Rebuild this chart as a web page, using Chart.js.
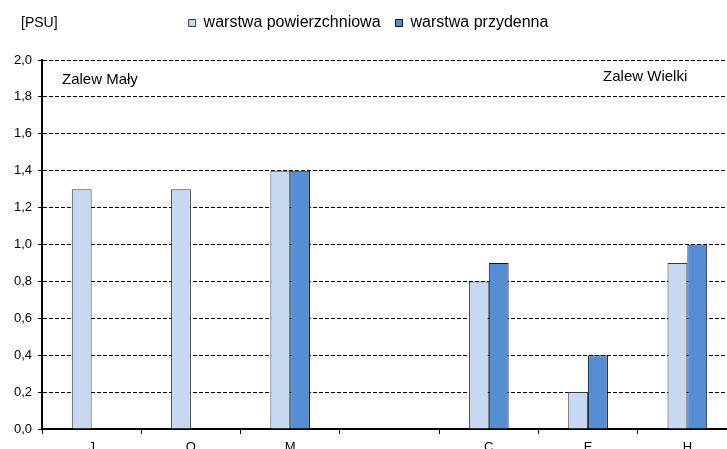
<!DOCTYPE html>
<html>
<head>
<meta charset="utf-8">
<script src="https://cdn.jsdelivr.net/npm/chart.js@4"></script>
<style>
    html, body { margin: 0; padding: 0; background: #fff; overflow: hidden; }
    #wrap { width: 737px; height: 460px; }
</style>
</head>
<body>
<div id="wrap"><canvas id="myChart"></canvas></div>
<script>
// stations (4th slot is an empty gap between the two lagoons)
var stations = ['J', 'O', 'M', '', 'C', 'E', 'H'];
var surface = [1.3, 1.3, 1.4, null, 0.8, 0.2, 0.9];
var bottom = [null, null, 1.4, null, 0.9, 0.4, 1.0];
var seriesNames = ['warstwa powierzchniowa', 'warstwa przydenna'];
var unitLabel = '[PSU]';
var regionLabels = ['Zalew Mały', 'Zalew Wielki'];

var fontFam = '"Liberation Sans", Arial, sans-serif';

// legend needs extra room below it, the chart area starts lower
var legendGap = {
    id: 'legendGap',
    beforeUpdate: function (chart) {
        var lg = chart.legend;
        if (lg && !lg._gapPatched) {
            var fit = lg.fit;
            lg.fit = function () {
                fit.call(this);
                this.height += 19;
            };
            lg._gapPatched = true;
        }
    }
};

// unit label + lagoon names
var extraText = {
    id: 'extraText',
    afterDraw: function (chart) {
        var ctx = chart.ctx;
        var area = chart.chartArea;
        var x = chart.scales.x;
        ctx.save();
        ctx.fillStyle = '#000';
        ctx.textBaseline = 'middle';
        ctx.textAlign = 'left';
        ctx.font = '14px ' + fontFam;
        ctx.fillText(unitLabel, 21, 23);
        ctx.font = '15px ' + fontFam;
        ctx.fillText(regionLabels[0], area.left + 20, 80);
        ctx.fillText(regionLabels[1], x.getPixelForValue(5) + 15, 77);
        ctx.restore();
    }
};

var ctx = document.getElementById('myChart').getContext('2d');
var myChart = new Chart(ctx, {
    type: 'bar',
    data: {
        labels: stations,
        datasets: [{
            label: seriesNames[0],
            data: surface,
            backgroundColor: '#c6d9f1',
            borderColor: '#3a3a3a',
            borderWidth: 1
        }, {
            label: seriesNames[1],
            data: bottom,
            backgroundColor: '#558ed5',
            borderColor: '#111',
            borderWidth: 1
        }]
    },
    options: {
        responsive: true,
        maintainAspectRatio: false,
        animation: false,
        categoryPercentage: 0.4,
        barPercentage: 1.0,
        layout: { padding: { top: 0, left: 0, right: 0, bottom: 0 } },
        plugins: {
            legend: {
                display: true,
                position: 'top',
                labels: {
                    boxWidth: 7,
                    boxHeight: 7,
                    padding: 15,
                    color: '#000',
                    font: { family: fontFam, size: 16 }
                }
            },
            tooltip: { enabled: false }
        },
        scales: {
            x: {
                offset: true,
                afterFit: function (scale) { scale.height = 31; },
                grid: {
                    offset: true,
                    drawOnChartArea: false,
                    drawTicks: true,
                    tickLength: 5,
                    color: '#000'
                },
                border: { color: '#000', width: 2 },
                ticks: {
                    color: '#000',
                    padding: 6,
                    font: { family: fontFam, size: 13 }
                }
            },
            y: {
                min: 0,
                max: 2,
                afterFit: function (scale) { scale.width = 42; },
                ticks: {
                    stepSize: 0.2,
                    color: '#000',
                    padding: 6,
                    font: { family: fontFam, size: 13 },
                    callback: function (v) { return v.toFixed(1).replace('.', ','); }
                },
                grid: {
                    color: '#000',
                    lineWidth: 1,
                    drawTicks: true,
                    tickLength: 4
                },
                border: { color: '#000', width: 2, dash: [4, 2] }
            }
        }
    },
    plugins: [legendGap, extraText]
});
</script>
</body>
</html>
